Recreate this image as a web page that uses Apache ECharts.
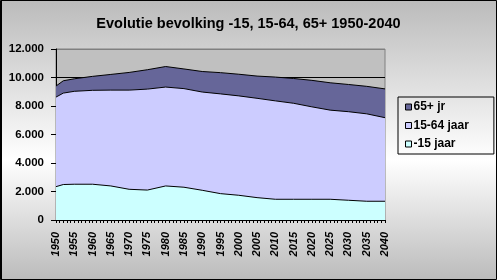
<!DOCTYPE html>
<html>
<head>
<meta charset="utf-8">
<script src="https://cdn.jsdelivr.net/npm/echarts@6/dist/echarts.min.js"></script>
<style>
html,body{margin:0;padding:0;background:#fff;}
#c{width:497px;height:280px;}
</style>
</head>
<body>
<div id="c"></div>
<script>
// Data (thousands)
const title = 'Evolutie bevolking -15, 15-64, 65+ 1950-2040';
const years   = [1950, 1952, 1955, 1960, 1965, 1970, 1975, 1980, 1985, 1990, 1995, 2000, 2005, 2010, 2015, 2020, 2025, 2030, 2035, 2040];
const young   = [2340, 2490, 2510, 2510, 2390, 2155, 2100, 2390, 2300, 2085, 1850, 1735, 1570, 1455, 1455, 1455, 1455, 1385, 1315, 1315];
const working = [6285, 6415, 6520, 6590, 6725, 6960, 7085, 6940, 6920, 6895, 7000, 6975, 6970, 6905, 6735, 6485, 6255, 6215, 6135, 5865];
const old     = [ 775,  865,  880,  980, 1100, 1240, 1360, 1440, 1380, 1440, 1490, 1520, 1560, 1670, 1740, 1860, 1920, 1910, 1930, 2020];
const seriesNames = ['-15 jaar', '15-64 jaar', '65+ jr'];
const legendOrder = ['65+ jr', '15-64 jaar', '-15 jaar'];
const yTickLabels = ['0', '2.000', '4.000', '6.000', '8.000', '10.000', '12.000'];
const xTickLabels = ['1950','1955','1960','1965','1970','1975','1980','1985','1990','1995','2000','2005','2010','2015','2020','2025','2030','2035','2040'];

const colors = ['#ccffff', '#ccccff', '#666699'];
const seriesData = [young, working, old];

// stacked (cumulative) values, bottom to top
const cumulative = seriesData.map((arr, i) =>
  arr.map((_, k) => seriesData.slice(0, i + 1).reduce((s, a) => s + a[k], 0))
);

const chart = echarts.init(document.getElementById('c'), null, {renderer: 'canvas'});
const font = 'Arial, "Liberation Sans", sans-serif';

// draw the top band first so lower bands overlay it
const order = [2, 1, 0];

chart.setOption({
  animation: false,
  backgroundColor: new echarts.graphic.LinearGradient(0, 0, 0, 1, [
    {offset: 0, color: '#bbbbbb'},
    {offset: 0.57, color: '#ffffff'},
    {offset: 1, color: '#bbbbbb'}
  ]),
  textStyle: {fontFamily: font},
  title: {
    text: title,
    left: 'center',
    top: 16,
    padding: 0,
    textStyle: {fontSize: 14.5, fontWeight: 'bold', color: '#000', fontFamily: font}
  },
  legend: {
    data: legendOrder,
    orient: 'vertical',
    left: 398,
    top: 97,
    padding: [4, 25, 4, 7],
    itemGap: 6.5,
    itemWidth: 6,
    itemHeight: 6,
    icon: 'rect',
    borderColor: '#000',
    borderWidth: 1,
    itemStyle: {borderColor: '#000', borderWidth: 1},
    textStyle: {fontSize: 12, fontWeight: 'bold', color: '#000', lineHeight: 12, fontFamily: font, padding: [0, 0, 0, -3]}
  },
  grid: {
    left: 56, top: 49, width: 329, height: 171,
    show: true, backgroundColor: '#c0c0c0', borderColor: '#808080', borderWidth: 1
  },
  xAxis: {
    type: 'value',
    min: 1950, max: 2040, interval: 5,
    axisLine: {lineStyle: {color: '#000', width: 1}},
    axisTick: {show: true, length: 3, lineStyle: {color: '#000'}},
    minorTick: {show: true, splitNumber: 5, length: 3, lineStyle: {color: '#000'}},
    splitLine: {show: false},
    axisLabel: {
      rotate: 90, margin: 12, fontSize: 11, fontWeight: 'bold', fontStyle: 'italic', color: '#000', fontFamily: font,
      formatter: v => xTickLabels[Math.round((v - 1950) / 5)]
    }
  },
  yAxis: {
    type: 'value',
    min: 0, max: 12000, interval: 2000,
    axisLine: {show: true, lineStyle: {color: '#000', width: 1}},
    axisTick: {show: true, length: 5, lineStyle: {color: '#000'}},
    splitLine: {show: true, lineStyle: {color: ['#000', '#000', '#000', '#000', '#000', '#000', '#808080'], width: 1}},
    axisLabel: {
      margin: 12, fontSize: 11.5, fontWeight: 'bold', color: '#000', fontFamily: font,
      formatter: v => yTickLabels[Math.round(v / 2000)]
    }
  },
  graphic: [
    {type: 'rect', shape: {x: 0.5, y: 0.5, width: 496, height: 279}, style: {fill: null, stroke: '#000', lineWidth: 1}, z: 100},
    {type: 'line', shape: {x1: 1.5, y1: 0, x2: 1.5, y2: 280}, style: {stroke: '#000', lineWidth: 1}, z: 100}
  ],
  series: order.map(i => ({
    name: seriesNames[i],
    type: 'line',
    symbol: 'none',
    data: years.map((y, k) => [y, cumulative[i][k]]),
    lineStyle: {color: '#000', width: 1},
    itemStyle: {color: colors[i], borderColor: '#000', borderWidth: 1},
    areaStyle: {color: colors[i], opacity: 1, origin: 'start'}
  }))
});
</script>
</body>
</html>
